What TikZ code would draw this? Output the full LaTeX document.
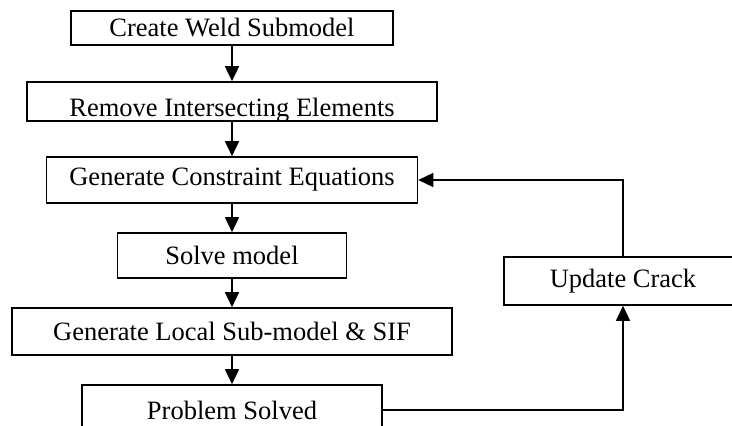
\documentclass[tikz,border=0pt]{standalone}
\usepackage{fontspec}
\setmainfont{Liberation Serif}
\usetikzlibrary{arrows.meta}
\begin{document}
\begin{tikzpicture}[x=1pt,y=-1pt,
  box/.style={draw, line width=1.6pt, inner sep=0pt, anchor=center,
    font=\fontsize{26.5}{30}\selectfont},
  arr/.style={line width=1.5pt, -{Triangle[width=14pt,length=15pt]}}]
\useasboundingbox (0,0) rectangle (732,426);
\fill[white] (0,0) rectangle (732,426);
\clip (0,0) rectangle (732,426);
\node[box, minimum width=322pt, minimum height=34pt] (b1) at (232,28) {Create Weld Submodel};
\node[box, minimum width=410pt, minimum height=39pt, text height=33.5pt, text depth=4.5pt] (b2) at (232,101.5) {Remove Intersecting Elements};
\node[box, minimum width=371pt, minimum height=46pt] (b3) at (232,180) {Generate Constraint Equations};
\node[box, minimum width=229pt, minimum height=45pt] (b4) at (232,255.5) {Solve model};
\node[box, minimum width=440pt, minimum height=47pt] (b5) at (232,331.5) {Generate Local Sub-model \& SIF};
\node[box, minimum width=300pt, minimum height=50pt] (b6) at (232,410) {Problem Solved};
\node[box, minimum width=238pt, minimum height=48pt] (uc) at (623,281) {Update Crack};
\draw[arr] (b1.south) -- (b2.north);
\draw[arr] (b2.south) -- (b3.north);
\draw[arr] (b3.south) -- (b4.north);
\draw[arr] (b4.south) -- (b5.north);
\draw[arr] (b5.south) -- (b6.north);
\draw[arr] (b6.east) -| (uc.south);
\draw[arr] (uc.north) |- (b3.east);
\end{tikzpicture}
\end{document}
